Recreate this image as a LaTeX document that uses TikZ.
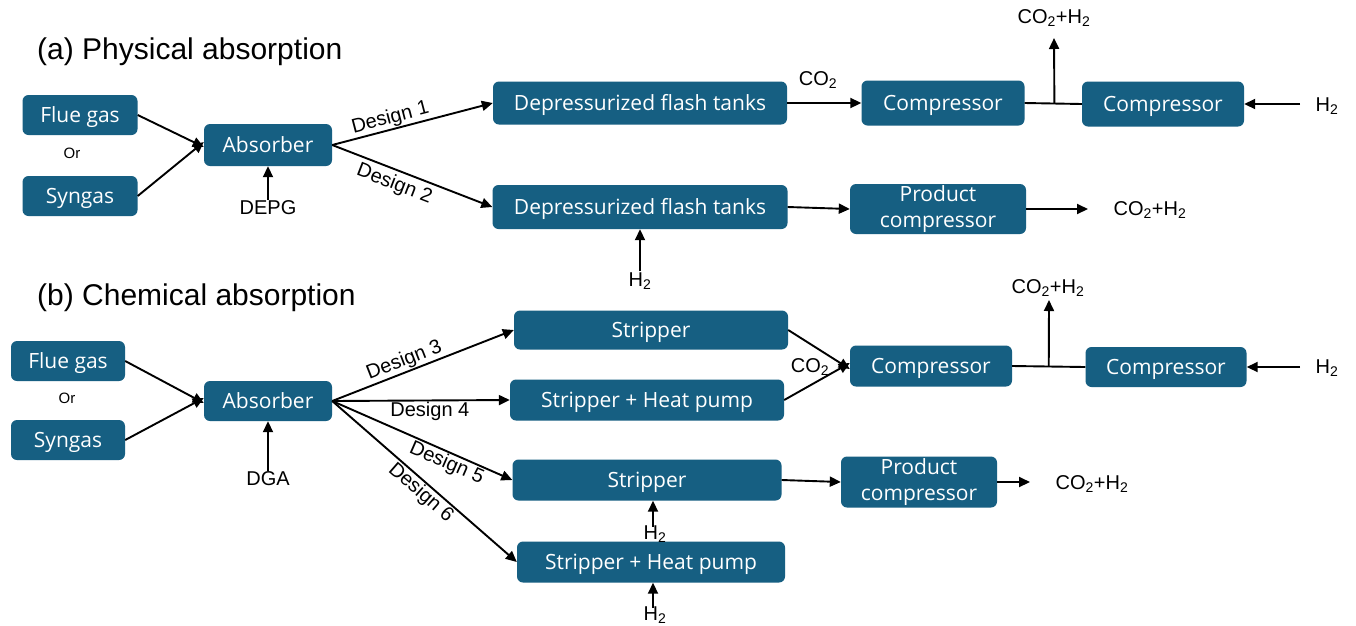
\documentclass[tikz,border=0pt]{standalone}
\usepackage{fontspec}
\setmainfont{Liberation Sans}
\newfontfamily\boxfont{Open Sans}
\usetikzlibrary{arrows.meta,calc}
\definecolor{boxc}{RGB}{22,95,130}
\begin{document}
\begin{tikzpicture}[x=1pt,y=-1pt,
  bxbase/.style={fill=boxc, rounded corners=6pt, text=white, inner sep=0pt,
    font=\boxfont\fontsize{21}{23}\selectfont},
  bx/.style={bxbase, align=center},
  bx1/.style={bxbase, text height=19pt, text depth=4pt},
  lbl/.style={font=\fontsize{20}{23}\selectfont, inner sep=1pt},
  ttl/.style={font=\fontsize{30}{34}\selectfont, anchor=west, inner sep=0pt},
  orl/.style={font=\fontsize{15}{17}\selectfont},
  arr/.style={line width=1.9pt, -{Triangle[length=11pt,width=10pt]}},
  ln/.style={line width=1.9pt}]
\useasboundingbox (0,0) rectangle (1356,625);
\fill[white] (0,0) rectangle (1356,625);

% ---------- (a) ----------
\node[ttl] (ta) at (37,52) {(a) Physical absorption};
\node[bx1, minimum width=115pt, minimum height=40pt] (fga) at (80,115) {Flue gas};
\node[orl] (ora) at (72,153) {Or};
\node[bx1, minimum width=115pt, minimum height=40pt] (sga) at (80,196) {Syngas};
\node[bx1, minimum width=128pt, minimum height=42pt] (aba) at (268,145) {Absorber};
\node[lbl] (depg) at (268,208) {DEPG};
\node[bx1, minimum width=294pt, minimum height=43pt] (dfa) at (640,103) {Depressurized flash tanks};
\node[bx1, minimum width=295pt, minimum height=44pt] (dfb) at (640,207) {Depressurized flash tanks};
\node[lbl] (co2a) at (818,80) {CO\textsubscript{2}};
\node[bx1, minimum width=163pt, minimum height=45pt] (ca1) at (943,103) {Compressor};
\node[bx1, minimum width=162pt, minimum height=45pt] (ca2) at (1163,104) {Compressor};
\node[lbl] (h2a) at (1327,106) {H\textsubscript{2}};
\node[lbl] (pha) at (1054,18) {CO\textsubscript{2}+H\textsubscript{2}};
\node[lbl] (h2b) at (640,281) {H\textsubscript{2}};
\node[bx, minimum width=176pt, minimum height=50pt] (pca) at (938,209) {Product\\[3pt]compressor};
\node[lbl] (pcha) at (1150,210) {CO\textsubscript{2}+H\textsubscript{2}};

\draw[arr] (fga.east) -- ([yshift=-2pt]aba.west);
\draw[arr] (sga.east) -- ([yshift=3pt]aba.west);
\draw[arr] (depg.north) -- (aba.south);
\draw[arr] (aba.east) -- node[lbl, sloped, above, pos=0.38] {Design 1} (dfa.west);
\draw[arr] (aba.east) -- node[lbl, sloped, below=3pt, pos=0.42] {Design 2} (dfb.west);
\draw[arr] (dfa.east) -- (ca1.west);
\draw[ln] (ca1.east) -- coordinate[pos=0.52] (ja) (ca2.west);
\coordinate (jat) at (1054,38);
\draw[arr] (ja) -- (jat);
\coordinate (h2as) at (1300,104);
\draw[arr] (h2as) -- (ca2.east);
\draw[arr] (h2b.north) -- (dfb.south);
\draw[arr] (dfb.east) -- (pca.west);
\coordinate (pcae) at (1088,209);
\draw[arr] (pca.east) -- (pcae);

% ---------- (b) ----------
\node[ttl] (tb) at (37,298) {(b) Chemical absorption};
\node[bx1, minimum width=114pt, minimum height=40pt] (fgb) at (68,361) {Flue gas};
\node[orl] (orb) at (67,398) {Or};
\node[bx1, minimum width=114pt, minimum height=40pt] (sgb) at (68,440) {Syngas};
\node[bx1, minimum width=128pt, minimum height=40pt] (abb) at (268,401) {Absorber};
\node[lbl] (dga) at (268,479) {DGA};
\node[bx1, minimum width=274pt, minimum height=39pt] (st1) at (651,330) {Stripper};
\node[bx1, minimum width=274pt, minimum height=41pt] (st2) at (647,400) {Stripper + Heat pump};
\node[bx1, minimum width=269pt, minimum height=41pt] (st3) at (647,480) {Stripper};
\node[bx1, minimum width=268pt, minimum height=41pt] (st4) at (651,562) {Stripper + Heat pump};
\node[lbl] (co2b) at (810,367) {CO\textsubscript{2}};
\node[bx1, minimum width=162pt, minimum height=41pt] (cb1) at (931,366) {Compressor};
\node[bx1, minimum width=161pt, minimum height=40pt] (cb2) at (1166,367) {Compressor};
\node[lbl] (h2c) at (1327,368) {H\textsubscript{2}};
\node[lbl] (phb) at (1048,288) {CO\textsubscript{2}+H\textsubscript{2}};
\node[bx, minimum width=156pt, minimum height=51pt] (pcb) at (919,482) {Product\\[3pt]compressor};
\node[lbl] (pchb) at (1092,484) {CO\textsubscript{2}+H\textsubscript{2}};
\node[lbl] (h2d) at (655,534) {H\textsubscript{2}};
\node[lbl] (h2e) at (655,615) {H\textsubscript{2}};

\draw[arr] (fgb.east) -- ([yshift=-2pt]abb.west);
\draw[arr] (sgb.east) -- ([yshift=3pt]abb.west);
\draw[arr] (dga.north) -- (abb.south);
\draw[arr] (abb.east) -- node[lbl, sloped, above, pos=0.42] {Design 3} (st1.west);
\draw[arr] (abb.east) -- node[lbl, below, pos=0.55] {Design 4} (st2.west);
\draw[arr] (abb.east) -- node[lbl, sloped, below, pos=0.66] {Design 5} (st3.west);
\draw[arr] (abb.east) -- node[lbl, sloped, below, pos=0.52] {Design 6} (st4.west);
\draw[arr] (st1.east) -- ([yshift=-3pt]cb1.west);
\draw[arr] (st2.east) -- ([yshift=3pt]cb1.west);
\draw[ln] (cb1.east) -- coordinate[pos=0.5] (jb) (cb2.west);
\coordinate (jbt) at (1049,300);
\draw[arr] (jb) -- (jbt);
\coordinate (h2cs) at (1300,367);
\draw[arr] (h2cs) -- (cb2.east);
\coordinate (h2ds) at (653,527);
\draw[arr] (h2ds) -- (st3.south -| h2ds);
\coordinate (h2es) at (653,608);
\draw[arr] (h2es) -- (st4.south -| h2es);
\draw[arr] (st3.east) -- (pcb.west);
\coordinate (pcbe) at (1030,482);
\draw[arr] (pcb.east) -- (pcbe);
\end{tikzpicture}
\end{document}
